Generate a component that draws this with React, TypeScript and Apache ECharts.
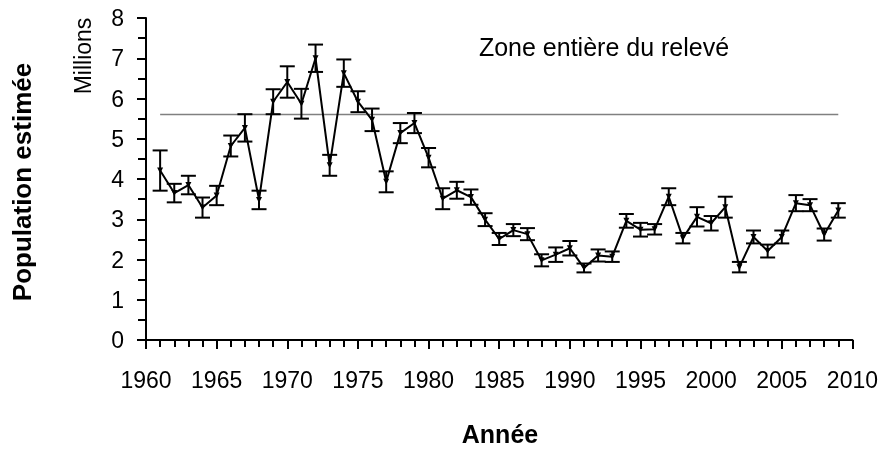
import React, { useEffect, useRef } from "react";
import * as echarts from "echarts";

const years: number[] = [];
for (let y = 1961; y <= 2009; y++) years.push(y);

const values = [
  4.21, 3.65, 3.85, 3.29, 3.59, 4.82, 5.27, 3.48, 5.92, 6.41,
  5.87, 7.0, 4.34, 6.63, 5.92, 5.47, 3.93, 5.14, 5.39, 4.53,
  3.51, 3.72, 3.55, 2.99, 2.51, 2.73, 2.63, 1.98, 2.12, 2.28,
  1.79, 2.1, 2.07, 2.96, 2.74, 2.75, 3.56, 2.53, 3.06, 2.9,
  3.3, 1.81, 2.56, 2.21, 2.56, 3.4, 3.35, 2.62, 3.22,
];

const errors = [
  0.5, 0.23, 0.23, 0.25, 0.24, 0.26, 0.34, 0.23, 0.31, 0.39,
  0.37, 0.34, 0.26, 0.34, 0.26, 0.28, 0.26, 0.25, 0.25, 0.24,
  0.26, 0.21, 0.19, 0.16, 0.15, 0.15, 0.15, 0.15, 0.18, 0.18,
  0.11, 0.15, 0.13, 0.17, 0.17, 0.13, 0.21, 0.13, 0.24, 0.18,
  0.26, 0.13, 0.16, 0.16, 0.16, 0.2, 0.15, 0.15, 0.18,
];

const referenceLevel = 5.6;
const referenceYears = [1961, 2009];

const titleText = "Zone entière du relevé";
const yTitle = "Population estimée";
const yUnit = "Millions";
const xTitle = "Année";

const SANS = "'Liberation Sans', Arial, sans-serif";

export default function App() {
  const ref = useRef<HTMLDivElement>(null);
  useEffect(() => {
    if (!ref.current) return;
    const chart = echarts.init(ref.current, null, { renderer: "svg" });
    const mainData = years.map((y, i) => [y, values[i]]);
    const errData = years.map((y, i) => [y, values[i] - errors[i], values[i] + errors[i]]);
    chart.setOption({
      animation: false,
      grid: { left: 146, right: 26, top: 18, bottom: 114 },
      xAxis: {
        type: "value",
        min: 1960,
        max: 2010,
        interval: 5,
        axisLine: { show: true, onZero: false, lineStyle: { color: "#000", width: 2 } },
        axisTick: { show: true, length: 9, lineStyle: { color: "#000", width: 2 } },
        minorTick: { show: true, splitNumber: 5, length: 7, lineStyle: { color: "#000", width: 2 } },
        splitLine: { show: false },
        axisLabel: {
          color: "#000",
          fontFamily: SANS,
          fontSize: 23,
          margin: 28,
          formatter: (v: number) => String(v),
        },
      },
      yAxis: {
        type: "value",
        min: 0,
        max: 8,
        interval: 1,
        axisLine: { show: true, lineStyle: { color: "#000", width: 2 } },
        axisTick: { show: true, length: 9, lineStyle: { color: "#000", width: 2 } },
        minorTick: { show: true, splitNumber: 2, length: 8, lineStyle: { color: "#000", width: 2 } },
        splitLine: { show: false },
        axisLabel: { color: "#000", fontFamily: SANS, fontSize: 23, margin: 22 },
      },
      series: [
        {
          type: "line",
          data: referenceYears.map((y) => [y, referenceLevel]),
          symbol: "none",
          lineStyle: { color: "#808080", width: 1.5 },
          silent: true,
          z: 1,
        },
        {
          type: "custom",
          data: errData,
          z: 3,
          renderItem: (params: any, api: any) => {
            const x = api.value(0);
            const lo = api.coord([x, api.value(1)]);
            const hi = api.coord([x, api.value(2)]);
            const hw = 7.5;
            const style = { stroke: "#000", lineWidth: 2, fill: "none" };
            return {
              type: "group",
              children: [
                { type: "line", shape: { x1: lo[0], y1: lo[1], x2: hi[0], y2: hi[1] }, style },
                { type: "line", shape: { x1: lo[0] - hw, y1: lo[1], x2: lo[0] + hw, y2: lo[1] }, style },
                { type: "line", shape: { x1: hi[0] - hw, y1: hi[1], x2: hi[0] + hw, y2: hi[1] }, style },
              ],
            };
          },
        },
        {
          type: "line",
          data: mainData,
          symbol: "triangle",
          symbolRotate: 180,
          symbolSize: 6,
          itemStyle: { color: "#000" },
          lineStyle: { color: "#000", width: 2 },
          z: 4,
        },
      ],
      graphic: [
        {
          type: "text",
          x: 604,
          y: 47,
          style: {
            text: titleText,
            font: `25px ${SANS}`,
            fill: "#000",
            align: "center",
            verticalAlign: "middle",
          },
        },
        {
          type: "text",
          x: 500,
          y: 434,
          style: {
            text: xTitle,
            font: `bold 25px ${SANS}`,
            fill: "#000",
            align: "center",
            verticalAlign: "middle",
          },
        },
        {
          type: "text",
          x: 22,
          y: 182,
          rotation: Math.PI / 2,
          style: {
            text: yTitle,
            font: `bold 26px ${SANS}`,
            fill: "#000",
            align: "center",
            verticalAlign: "middle",
          },
        },
        {
          type: "text",
          x: 83,
          y: 56,
          rotation: Math.PI / 2,
          style: {
            text: yUnit,
            font: `23px ${SANS}`,
            fill: "#000",
            align: "center",
            verticalAlign: "middle",
          },
        },
      ],
    });
    return () => chart.dispose();
  }, []);
  return (
    <div
      ref={ref}
      style={{ position: "fixed", left: 0, top: 0, width: 881, height: 454 }}
    />
  );
}
